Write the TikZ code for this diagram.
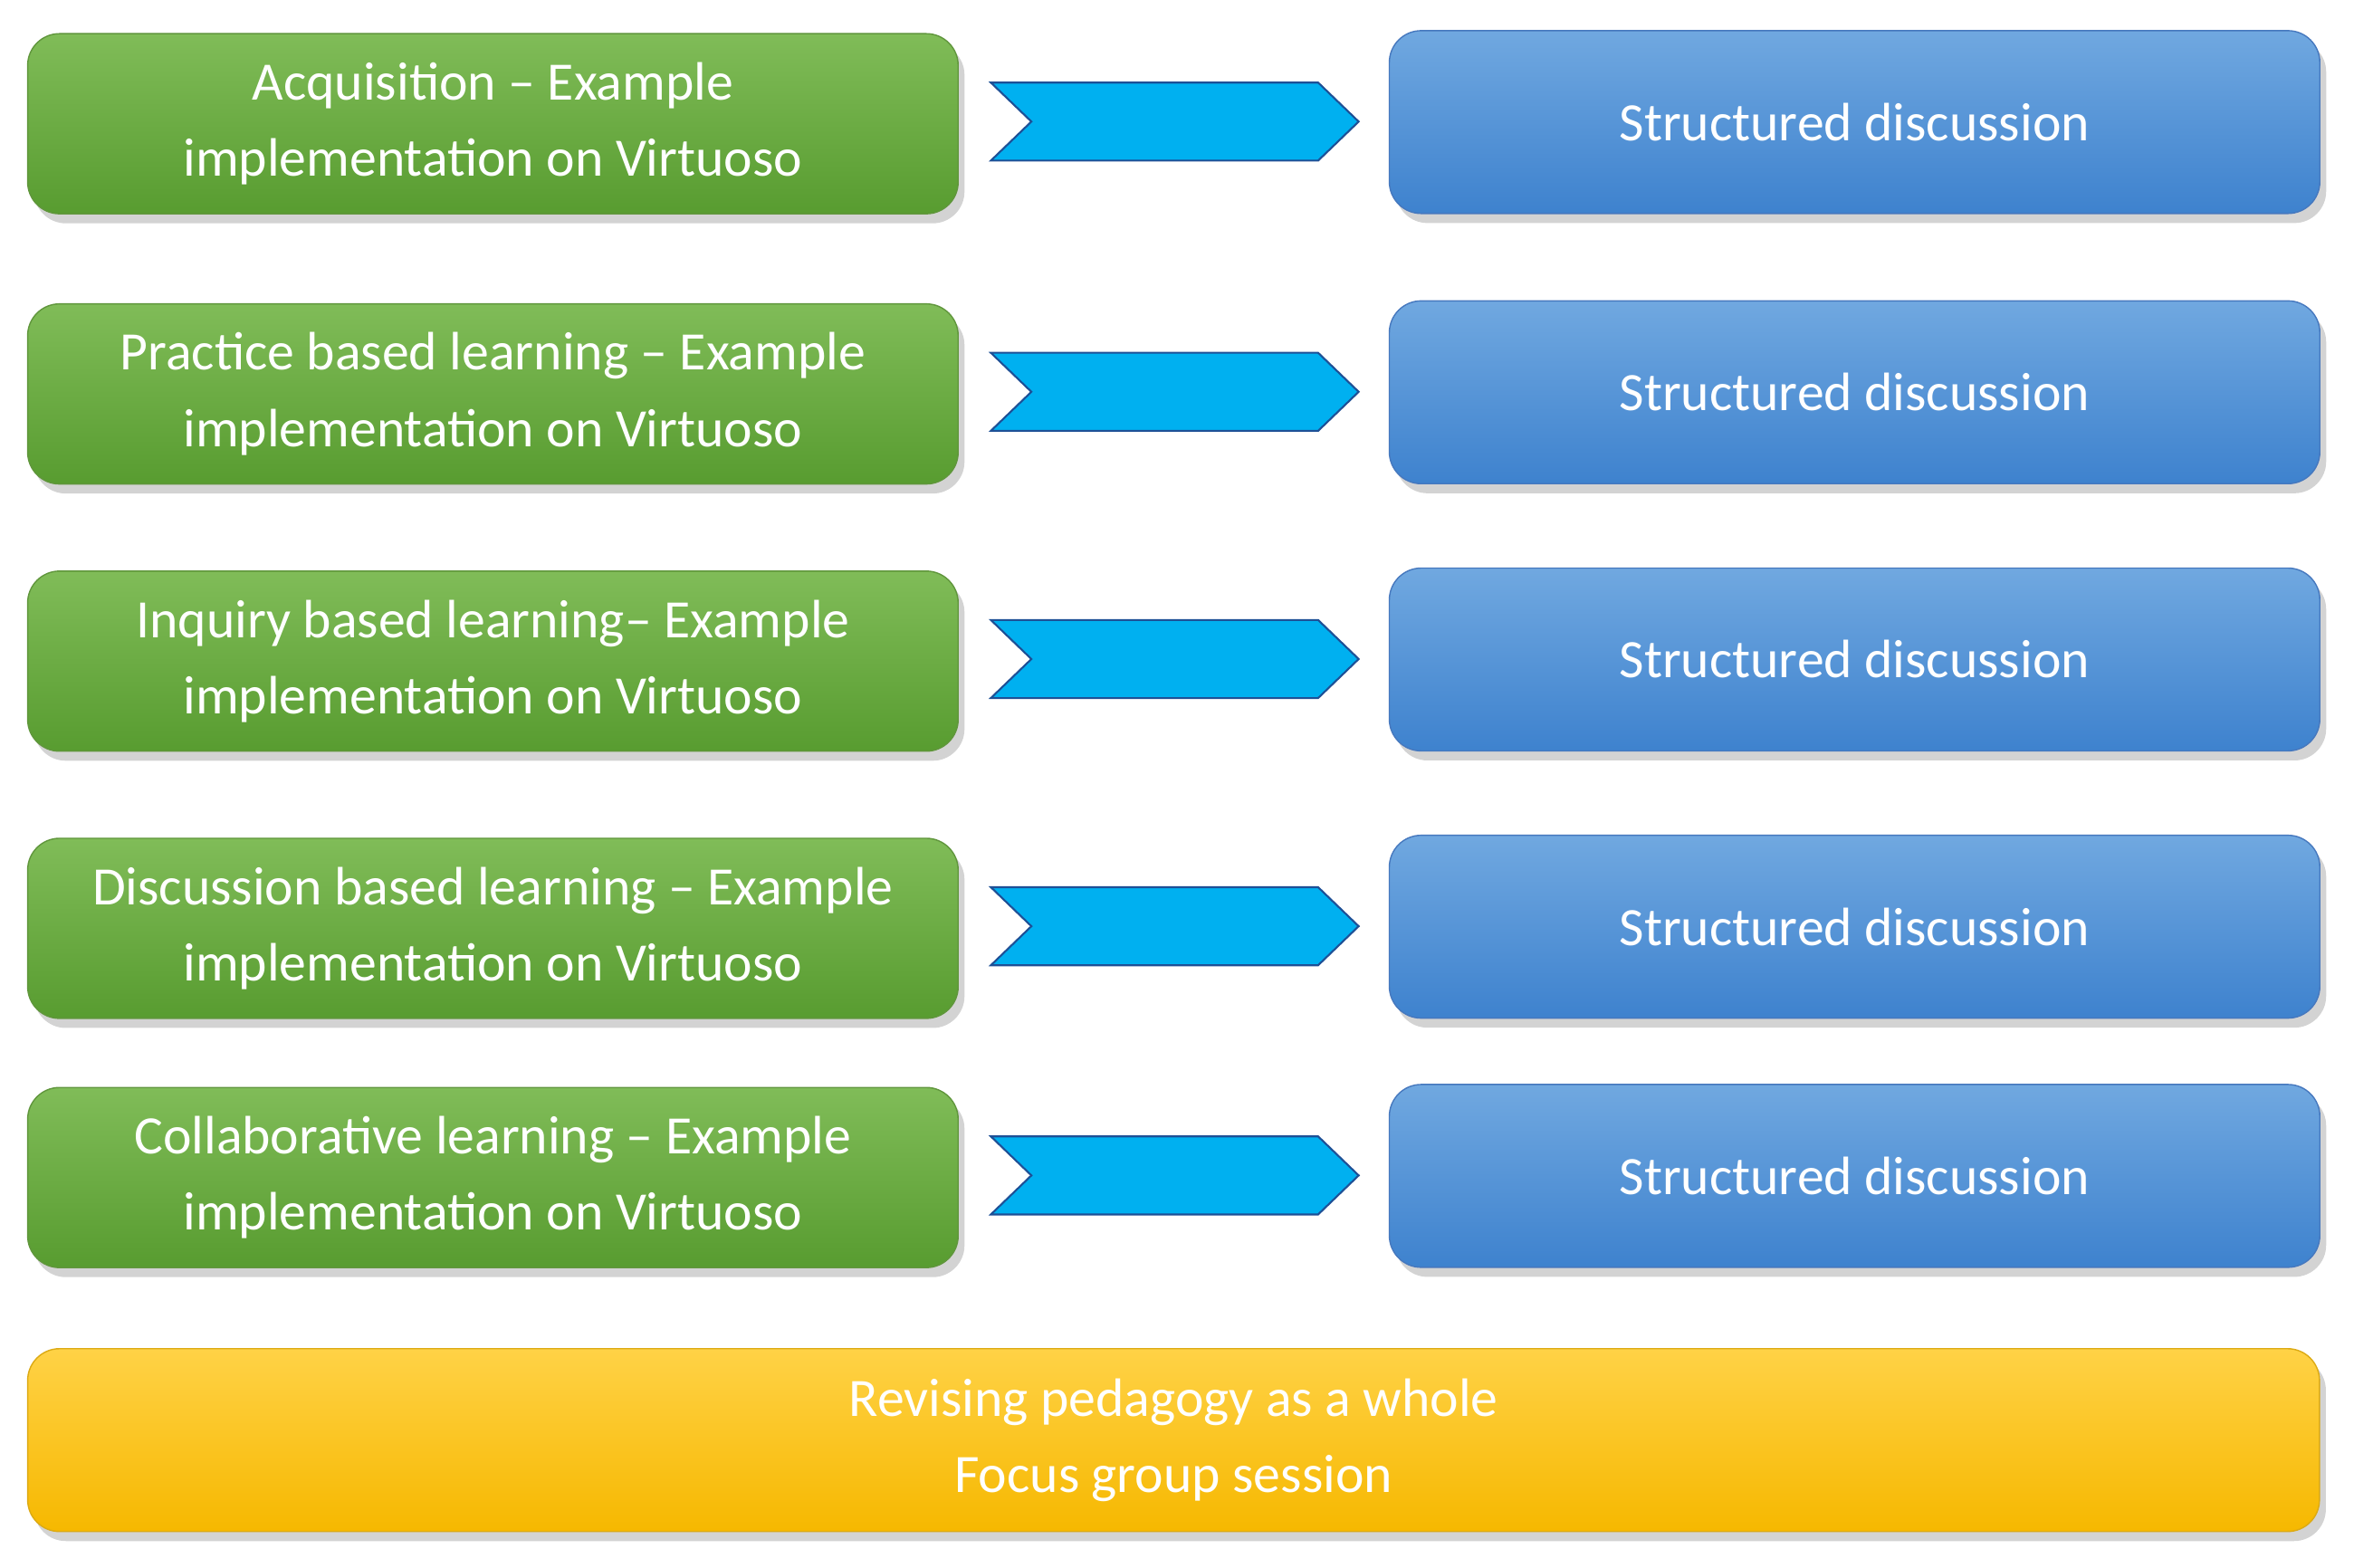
\documentclass[tikz,border=0pt]{standalone}
\usepackage{fontspec}
\setmainfont{Carlito}
\usetikzlibrary{shadows}
\definecolor{gtop}{RGB}{128,188,88}
\definecolor{gbot}{RGB}{88,156,48}
\definecolor{gdr}{RGB}{96,150,60}
\definecolor{btop}{RGB}{112,168,224}
\definecolor{bbot}{RGB}{62,130,206}
\definecolor{bdr}{RGB}{70,120,190}
\definecolor{ytop}{RGB}{255,210,70}
\definecolor{ybot}{RGB}{246,184,0}
\definecolor{ydr}{RGB}{220,170,20}
\definecolor{chf}{RGB}{0,176,240}
\definecolor{chd}{RGB}{30,80,150}
\begin{document}
\begin{tikzpicture}[x=0.01658cm,y=-0.01658cm,
 box/.style={rounded corners=10pt,drop shadow={shadow xshift=2pt,shadow yshift=-3pt,opacity=0.35},
   text=white,align=center,font=\fontsize{17}{24}\selectfont,inner sep=0pt,anchor=north west},
 gbox/.style={box,top color=gtop,bottom color=gbot,draw=gdr},
 bbox/.style={box,top color=btop,bottom color=bbot,draw=bdr},
 ybox/.style={box,top color=ytop,bottom color=ybot,draw=ydr},
 chev/.style={fill=chf,draw=chd,line width=0.6pt}]
\useasboundingbox (0,0) rectangle (1568,1044);
\foreach \y/\t [count=\i] in {22/Acquisition -- Example\\implementation on Virtuoso,
 202/Practice based learning -- Example\\implementation on Virtuoso,
 380/Inquiry based learning-- Example\\implementation on Virtuoso,
 558/Discussion based learning -- Example\\implementation on Virtuoso,
 724/Collaborative learning -- Example\\implementation on Virtuoso}{
 \node[gbox,minimum width=10.28cm,minimum height=1.99cm] (g\i) at (18,\y) {\t};
 \node[bbox,minimum width=10.28cm,minimum height=2.02cm] (b\i) at (925,\y-2) {Structured discussion};
 \coordinate (c\i) at (660,\y+59);
 \draw[chev] (c\i) ++(0,-26) -- ++(218,0) -- ++(27,26) -- ++(-27,26) -- ++(-218,0) -- ++(27,-26) -- cycle;
}
\node[ybox,minimum width=25.32cm,minimum height=2.02cm] (y) at (18,898) {Revising pedagogy as a whole\\Focus group session};
\end{tikzpicture}
\end{document}
